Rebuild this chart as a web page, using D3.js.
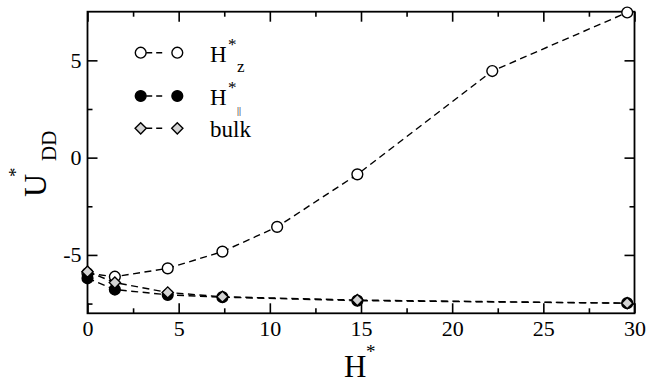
<!DOCTYPE html>
<html>
<head>
<meta charset="utf-8">
<script src="https://cdn.jsdelivr.net/npm/d3@7"></script>
<style>
  html, body { margin: 0; padding: 0; background: #fff; }
  svg { display: block; }
</style>
</head>
<body>
<svg id="chart" width="646" height="384"></svg>
<script>
// ---- data ----
const hValues = [0, 1.5, 4.4, 7.4, 10.4, 14.8, 22.2, 29.6];
const uHz = [-5.95, -6.12, -5.69, -4.83, -3.56, -0.86, 4.45, 7.46];

const hParValues = [0, 1.5, 4.4, 7.4, 14.8, 29.6];
const uHpar = [-6.2, -6.78, -7.05, -7.17, -7.35, -7.48];

const hBulkValues = [0, 1.5, 4.4, 7.4, 14.8, 29.6];
const uBulk = [-5.86, -6.42, -6.93, -7.15, -7.32, -7.48];

const xMajorTicks = [0, 5, 10, 15, 20, 25, 30];
const xMinorTicks = [2.5, 7.5, 12.5, 17.5, 22.5, 27.5];
const yMajorTicks = [-5, 0, 5];
const yMinorTicks = [-7.5, -2.5, 2.5];

const seriesNames = ["Hz", "Hpar", "bulk"];

// ---- layout ----
const FONT = "\"Liberation Serif\", \"Times New Roman\", \"Liberation Sans\", Arial, sans-serif";
const plot = { left: 87.5, right: 634.5, top: 11.7, bottom: 313.3 };
const svg = d3.select("#chart").attr("font-family", FONT);

const x = d3.scaleLinear().domain([0, 30]).range([plot.left, plot.right]);
const y = d3.scaleLinear().domain([-8, 7.5]).range([plot.bottom, plot.top]);

const fmt = d => String(d);

function addText(parent, tx, ty, size, str) {
  return parent.append("text").attr("x", tx).attr("y", ty)
    .attr("fill", "#000")
    .attr("font-family", FONT).attr("font-size", size)
    .text(str);
}

function styleAxis(g) {
  g.attr("font-family", FONT).attr("font-size", 22);
  g.select(".domain").remove();
  g.selectAll(".tick line").attr("stroke", "#000").attr("stroke-width", 1.6);
  g.selectAll(".tick text").attr("fill", "#000");
}

// bottom axis with labels
svg.append("g").attr("transform", `translate(0,${plot.bottom})`)
  .call(d3.axisBottom(x).tickValues(xMajorTicks).tickFormat(fmt).tickSizeInner(-10).tickSizeOuter(0).tickPadding(7.5))
  .call(styleAxis);
svg.append("g").attr("transform", `translate(0,${plot.bottom})`)
  .call(d3.axisBottom(x).tickValues(xMinorTicks).tickFormat("").tickSizeInner(-5).tickSizeOuter(0))
  .call(styleAxis);
// top axis, ticks only
svg.append("g").attr("transform", `translate(0,${plot.top})`)
  .call(d3.axisTop(x).tickValues(xMajorTicks).tickFormat("").tickSizeInner(-10).tickSizeOuter(0))
  .call(styleAxis);
svg.append("g").attr("transform", `translate(0,${plot.top})`)
  .call(d3.axisTop(x).tickValues(xMinorTicks).tickFormat("").tickSizeInner(-5).tickSizeOuter(0))
  .call(styleAxis);
// left axis with labels
svg.append("g").attr("transform", `translate(${plot.left},0)`)
  .call(d3.axisLeft(y).tickValues(yMajorTicks).tickFormat(fmt).tickSizeInner(-10).tickSizeOuter(0).tickPadding(6))
  .call(styleAxis);
svg.append("g").attr("transform", `translate(${plot.left},0)`)
  .call(d3.axisLeft(y).tickValues(yMinorTicks).tickFormat("").tickSizeInner(-5).tickSizeOuter(0))
  .call(styleAxis);
// right axis, ticks only
svg.append("g").attr("transform", `translate(${plot.right},0)`)
  .call(d3.axisRight(y).tickValues(yMajorTicks).tickFormat("").tickSizeInner(-10).tickSizeOuter(0))
  .call(styleAxis);
svg.append("g").attr("transform", `translate(${plot.right},0)`)
  .call(d3.axisRight(y).tickValues(yMinorTicks).tickFormat("").tickSizeInner(-5).tickSizeOuter(0))
  .call(styleAxis);

// frame
svg.append("rect")
  .attr("x", plot.left).attr("y", plot.top)
  .attr("width", plot.right - plot.left).attr("height", plot.bottom - plot.top)
  .attr("fill", "none").attr("stroke", "#000").attr("stroke-width", 1.8);

// ---- series ----
const dash = "7,4.5";
const markerR = 5.4;
const diamondR = 5.6;
const diamondPath = r => `M0,${-r}L${r},0L0,${r}L${-r},0Z`;

const series = [
  { name: seriesNames[0], xs: hValues, ys: uHz, marker: "circle", fill: "#fff" },
  { name: seriesNames[1], xs: hParValues, ys: uHpar, marker: "circle", fill: "#000" },
  { name: seriesNames[2], xs: hBulkValues, ys: uBulk, marker: "diamond", fill: "#d3d3d3" }
];

const line = d3.line().x(d => x(d[0])).y(d => y(d[1]));

function drawMarker(sel, s) {
  if (s.marker === "circle") {
    sel.append("circle").attr("r", markerR)
      .attr("fill", s.fill).attr("stroke", "#000").attr("stroke-width", 1.4);
  } else {
    sel.append("path").attr("d", diamondPath(diamondR))
      .attr("fill", s.fill).attr("stroke", "#000").attr("stroke-width", 1.4);
  }
}

series.forEach(s => {
  const pts = s.xs.map((v, i) => [v, s.ys[i]]);
  const g = svg.append("g").attr("class", "series-" + s.name);
  g.append("path").datum(pts).attr("d", line)
    .attr("fill", "none").attr("stroke", "#000").attr("stroke-width", 1.4)
    .attr("stroke-dasharray", dash);
  g.selectAll("g.pt").data(pts).join("g").attr("class", "pt")
    .attr("transform", d => `translate(${x(d[0])},${y(d[1])})`)
    .each(function () { drawMarker(d3.select(this), s); });
});

// ---- legend ----
const legendRows = [52.7, 96, 128.3];
const legendX0 = 140.7, legendX1 = 177.3, legendTextX = 210;
const legend = svg.append("g");
series.forEach((s, i) => {
  const ly = legendRows[i];
  legend.append("line").attr("x1", legendX0).attr("x2", legendX1).attr("y1", ly).attr("y2", ly)
    .attr("stroke", "#000").attr("stroke-width", 1.4).attr("stroke-dasharray", "0,5.5,6,4,6,5");
  [legendX0, legendX1].forEach(lx => {
    drawMarker(legend.append("g").attr("transform", `translate(${lx},${ly})`), s);
  });
});
// legend labels: H with superscript star and a subscript
function hLabel(yBase, sub, subSize, subDy) {
  addText(legend, legendTextX, yBase, 23, "H");
  addText(legend, legendTextX + 18, yBase - 12, 17, "*");
  addText(legend, legendTextX + 27, yBase + subDy, subSize, sub);
}
hLabel(61.7, "z", 17, 10.3);
hLabel(105, "||", 10, 9);
addText(legend, legendTextX, 136.7, 23, "bulk");

// ---- axis titles ----
addText(svg, 344, 376.7, 31, "H");
addText(svg, 366, 358, 19, "*");

const yTitle = svg.append("g").attr("transform", "translate(45.7,197) rotate(-90)");
addText(yTitle, 0, 0, 32, "U");
addText(yTitle, 36, 10, 21, "DD");
addText(yTitle, 20, -24, 19, "*");
</script>
</body>
</html>
